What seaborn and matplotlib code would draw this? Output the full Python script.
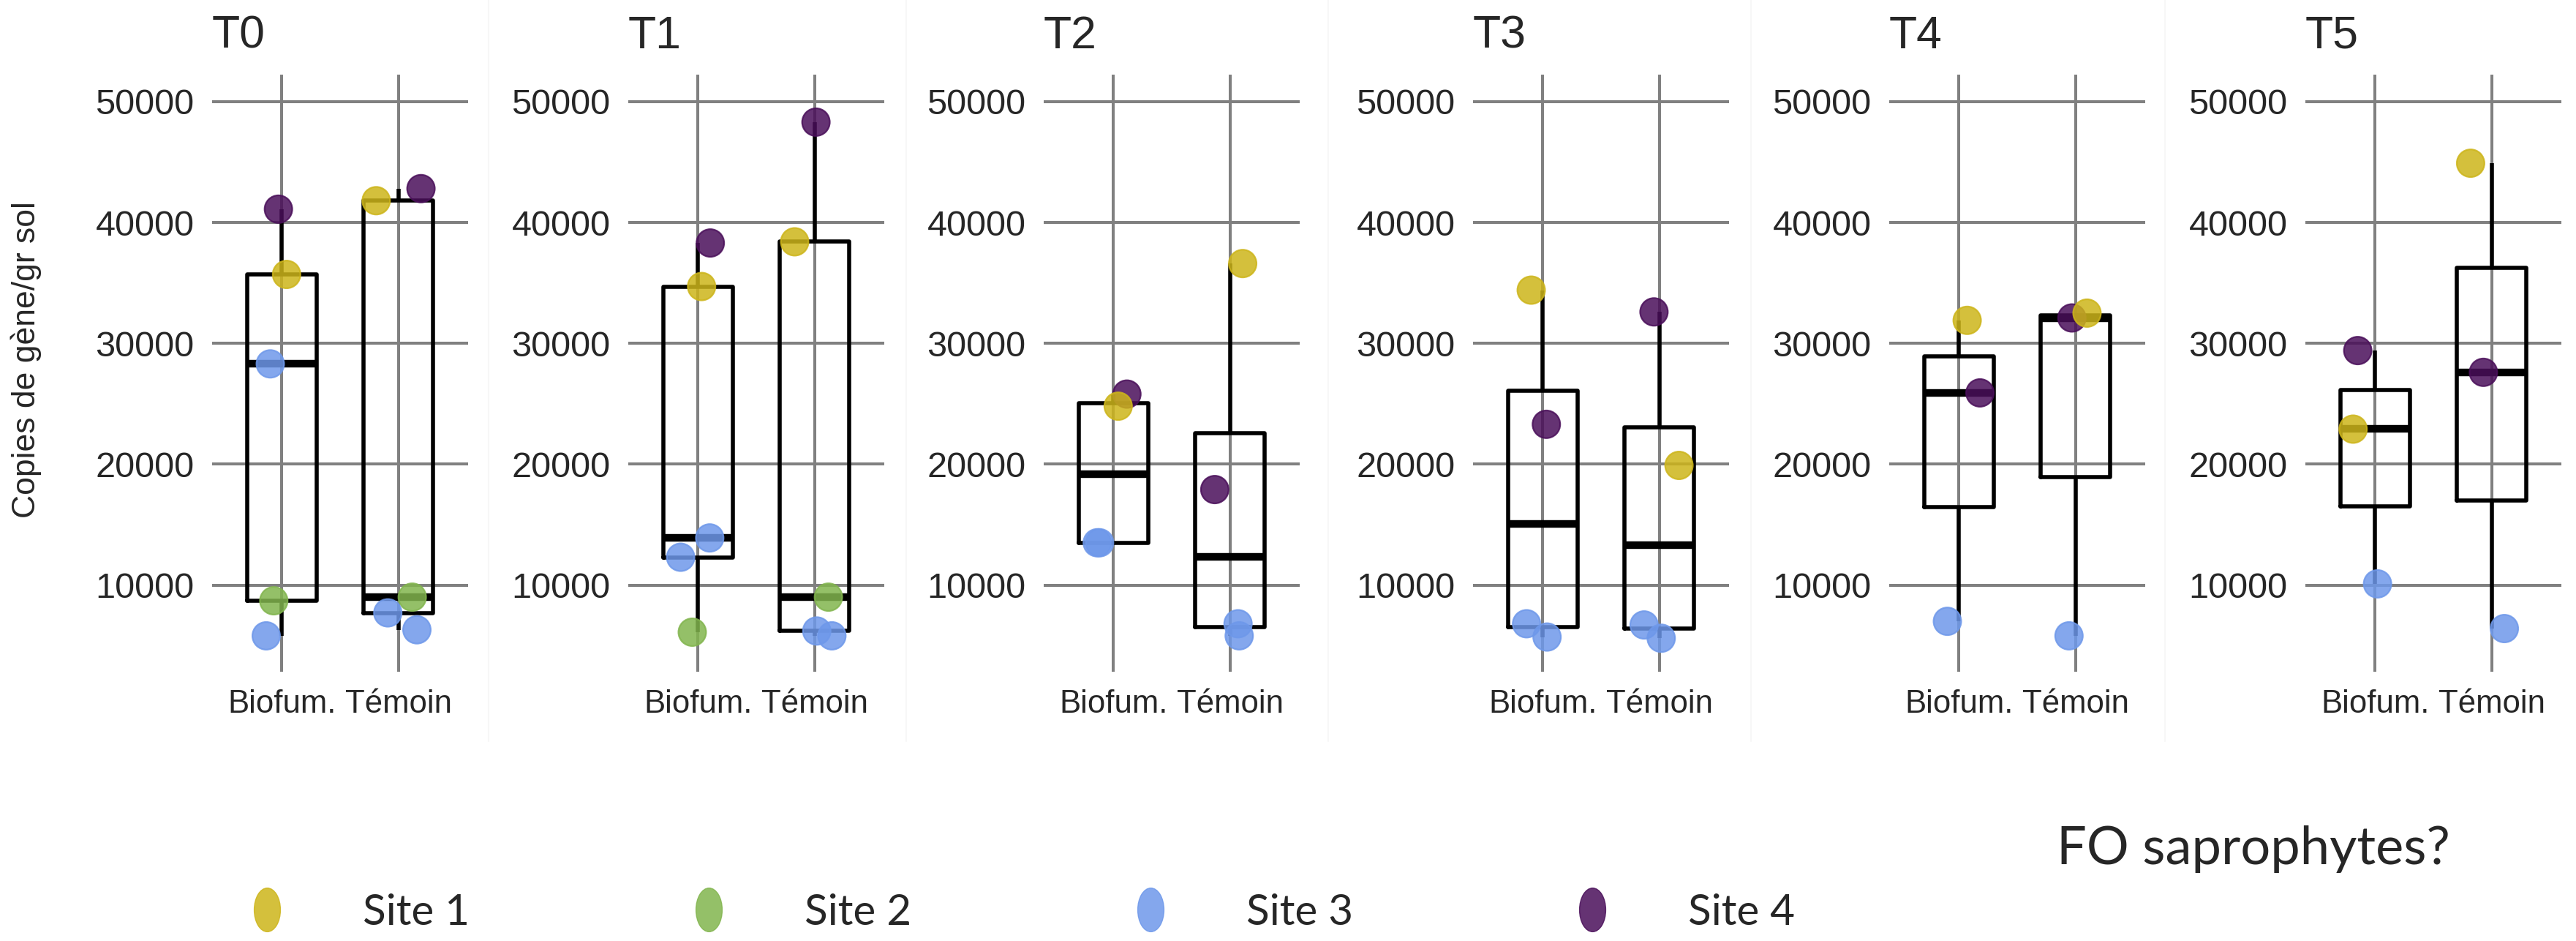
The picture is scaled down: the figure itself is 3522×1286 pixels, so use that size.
import pandas as pd
import matplotlib.pyplot as plt
import seaborn as sns
from matplotlib.lines import Line2D
from matplotlib.path import Path
from matplotlib.transforms import Affine2D

sns.set_style("white")
plt.rcParams['font.family'] = ['Liberation Sans', 'DejaVu Sans']

times = ['T0', 'T1', 'T2', 'T3', 'T4', 'T5']
treatments = ['Biofum.', 'Témoin']
sites = ['Site 1', 'Site 2', 'Site 3', 'Site 4']
site_colors = ['#CDB51A', '#82B54E', '#6E98EA', '#4A0F5A']
ytick_values = [10000, 20000, 30000, 40000, 50000]
ytick_labels = ['10000', '20000', '30000', '40000', '50000']

B, T = treatments
time = ['T0'] * 10 + ['T1'] * 10 + ['T2'] * 8 + ['T3'] * 8 + ['T4'] * 6 + ['T5'] * 6
treatment = ([B] * 5 + [T] * 5 + [B] * 5 + [T] * 5 + [B] * 4 + [T] * 4
             + [B] * 4 + [T] * 4 + [B] * 3 + [T] * 3 + [B] * 3 + [T] * 3)
site = [4, 1, 3, 2, 3, 1, 4, 2, 3, 3,
        4, 1, 3, 3, 2, 4, 1, 2, 3, 3,
        4, 1, 3, 3, 1, 4, 3, 3,
        1, 4, 3, 3, 4, 1, 3, 3,
        1, 4, 3, 4, 1, 3,
        4, 1, 3, 1, 4, 3]
copies = [41100, 35700, 28300, 8700, 5800, 41800, 42800, 9000, 7700, 6300,
          38300, 34700, 13900, 12300, 6100, 48300, 38400, 9000, 6200, 5800,
          25800, 24800, 13500, 13500, 36600, 17900, 6800, 5800,
          34400, 23300, 6800, 5700, 32600, 19900, 6700, 5600,
          31900, 25900, 7000, 32100, 32500, 5800,
          29400, 22900, 10100, 44900, 27600, 6400]
# horizontal jitter of each point (category units)
jitter = [-0.03, 0.04, -0.10, -0.07, -0.135, -0.19, 0.195, 0.12, -0.09, 0.16,
          0.105, 0.03, 0.10, -0.15, -0.05, 0.013, -0.17, 0.12, 0.02, 0.15,
          0.115, 0.04, -0.14, -0.12, 0.11, -0.13, 0.07, 0.08,
          -0.10, 0.03, -0.14, 0.036, -0.045, 0.17, -0.13, 0.017,
          0.07, 0.18, -0.10, -0.03, 0.10, -0.055,
          -0.15, -0.19, 0.02, -0.18, -0.07, 0.11]

df = pd.DataFrame({'time': time, 'treatment': treatment,
                   'site': ['Site %d' % s for s in site],
                   'copies': copies, 'jitter': jitter})
df['code'] = df['treatment'].map({t: i for i, t in enumerate(treatments)})
df['xpos'] = df['code'] + df['jitter']

W, H = 3522, 1286
fig = plt.figure(figsize=(W / 100, H / 100), dpi=100)
fig.patch.set_facecolor('white')

# faint borders between the pasted panels
for xb in [668, 1239, 1816, 2394, 2960]:
    fig.add_artist(Line2D([xb / W, xb / W], [1 - 1013 / H, 1], color='#f7f7f7', lw=1.5))

lefts = [290, 859, 1427, 2014, 2583, 3152]
line_kw = {'color': 'black', 'linewidth': 4.0}
for i, t in enumerate(times):
    ax = fig.add_axes([lefts[i] / W, 1 - 918 / H, 350 / W, 816 / H])
    sub = df[df['time'] == t]
    sns.boxplot(data=sub, x='code', y='copies', native_scale=True, orient='x',
                width=0.6, fill=False, color='black', linewidth=4.0,
                showfliers=False, showcaps=False,
                boxprops=line_kw, whiskerprops=line_kw,
                medianprops={'linewidth': 7.5, 'color': 'black'}, ax=ax)
    sns.scatterplot(data=sub, x='xpos', y='copies', hue='site', hue_order=sites,
                    palette=site_colors, s=740, alpha=0.85, edgecolor='face',
                    linewidth=1.6, legend=False, ax=ax, zorder=3)
    ax.set_xticks([0, 1], treatments)
    ax.set_yticks(ytick_values, ytick_labels)
    ax.set_xlim(-0.6, 1.6)
    ax.set_ylim(2830, 52230)
    ax.grid(True, color='#808080', linewidth=2.9)
    ax.set_axisbelow(True)
    sns.despine(ax=ax, left=True, bottom=True)
    ax.tick_params(axis='y', length=8.6, width=2.9, color='#333333', pad=9, labelsize=35)
    ax.tick_params(axis='x', length=9, width=2.9, color='#333333', pad=8, labelsize=31.5)
    ax.set_xlabel('')
    ax.set_ylabel('')
    ax.set_title(t, loc='left', fontsize=45, pad=26)
    if i == 0:
        ax.set_ylabel('Copies de gène/gr sol', fontsize=32)
        ax.yaxis.set_label_coords(-0.666, 0.522)

# legend with vertically stretched markers
ellipse = Path.unit_circle().transformed(Affine2D().scale(0.6, 1.0))
handles = [Line2D([], [], linestyle='', marker=ellipse, markersize=43,
                  markerfacecolor=c, markeredgecolor=c, alpha=0.85)
           for c in site_colors]
fig.legend(handles, sites, loc='center left', ncol=4, frameon=False,
           bbox_to_anchor=(336 / W, 1 - 1247 / H), borderpad=0, borderaxespad=0,
           handlelength=1.0, handletextpad=1.75, columnspacing=5.1,
           prop={'family': ['Lato', 'DejaVu Sans'], 'size': 42})

fig.text(2812 / W, 1 - 1181 / H, 'FO saprophytes?', fontsize=52,
         family=['Lato', 'DejaVu Sans'], va='baseline', ha='left')

fig.savefig('out.png', dpi=100, facecolor='white')
